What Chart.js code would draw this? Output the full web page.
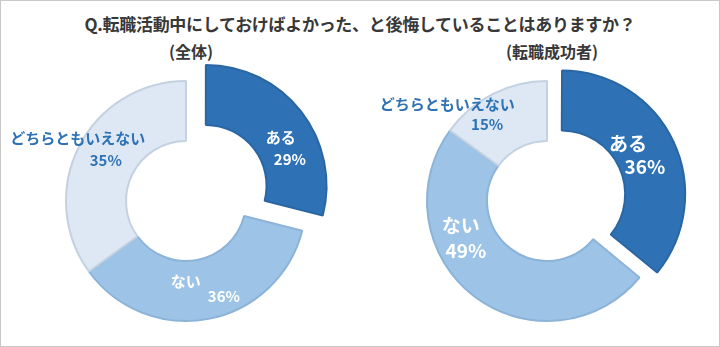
<!DOCTYPE html>
<html>
<head>
<meta charset="utf-8">
<script src="https://cdn.jsdelivr.net/npm/chart.js@4/dist/chart.umd.min.js"></script>
<style>
  html, body { margin: 0; padding: 0; background: #fff; }
  #wrap { position: relative; width: 720px; height: 347px; overflow: hidden; font-family: "Noto Sans CJK JP", sans-serif; }
  #frame { position: absolute; left: 0; top: 0; width: 718px; height: 345px; border: 1px solid #c8c8c8; pointer-events: none; }
  .title { position: absolute; left: 0; width: 720px; top: 11px; text-align: center; font-size: 17px; font-weight: bold; color: #383838; letter-spacing: -0.3px; }
  .sub { position: absolute; top: 39px; font-size: 16px; font-weight: bold; color: #383838; text-align: center; width: 160px; }
  canvas { position: absolute; }
</style>
</head>
<body>
<div id="wrap">
  <div class="title">Q.転職活動中にしておけばよかった、と後悔していることはありますか？</div>
  <div class="sub" style="left:111px">(全体)</div>
  <div class="sub" style="left:472px">(転職成功者)</div>
  <canvas id="left-chart" width="372" height="280" style="left:0;top:61px"></canvas>
  <canvas id="right-chart" width="350" height="280" style="left:372px;top:61px"></canvas>
  <div id="frame"></div>
</div>
<script>
const categories = ['ある', 'ない', 'どちらともいえない'];
const allValues = [29, 36, 35];
const successValues = [36, 49, 15];

const fillColors = ['#2e72b5', '#9dc3e6', '#dde8f4'];
const edgeColors = ['#2a66a3', '#8cb3d8', '#c3d1e1'];
const textColors = ['#ffffff', '#ffffff', '#2e72b5'];

// nudge of each label line from the slice centre: [dxName, dyName, dxPct, dyPct]
const leftNudge = [[4, 7, 13, 29], [-17, -8, 21, 7], [-28, -22, 0, 0]];
const rightNudge = [[-15, -12, 2, 11], [-31, -46, -26, -21], [-59, -17, -19, 3]];

const sliceLabels = {
  id: 'sliceLabels',
  afterDatasetsDraw(chart, args, opts) {
    const ctx = chart.ctx;
    const arcs = chart.getDatasetMeta(0).data;
    const values = chart.data.datasets[0].data;
    ctx.save();
    ctx.textAlign = 'center';
    ctx.textBaseline = 'middle';
    arcs.forEach((arc, i) => {
      const half = (arc.startAngle + arc.endAngle) / 2;
      const r = (arc.innerRadius + arc.outerRadius) / 2 + (arc.options.offset || 0) / 4;
      const x = arc.x + Math.cos(half) * r;
      const y = arc.y + Math.sin(half) * r;
      const n = opts.nudge[i];
      const size = opts.sizes[i];
      ctx.fillStyle = textColors[i];
      ctx.font = 'bold ' + size + 'px "Noto Sans CJK JP", sans-serif';
      ctx.fillText(chart.data.labels[i], x + n[0], y + n[1]);
      ctx.fillText(values[i] + '%', x + n[2], y + n[3]);
    });
    ctx.restore();
  }
};

const makeChart = (id, values, offsets, nudge, sizes) => {
  return new Chart(document.getElementById(id), {
    type: 'doughnut',
    data: {
      labels: categories,
      datasets: [{
        data: values,
        backgroundColor: fillColors,
        borderColor: edgeColors,
        borderWidth: 2,
        offset: offsets
      }]
    },
    options: {
      responsive: false,
      animation: false,
      events: [],
      cutout: '50%',
      radius: 120,
      layout: { padding: 0 },
      plugins: {
        legend: { display: false },
        tooltip: { enabled: false },
        sliceLabels: { nudge: nudge, sizes: sizes }
      }
    },
    plugins: [sliceLabels]
  });
};

document.fonts.load('bold 16px "Noto Sans CJK JP"').then(() => {
  makeChart('left-chart', allValues, [100, 0, 0], leftNudge, [15, 15, 15]);
  makeChart('right-chart', successValues, [64, 0, 0], rightNudge, [19, 19, 15]);
});
</script>
</body>
</html>
